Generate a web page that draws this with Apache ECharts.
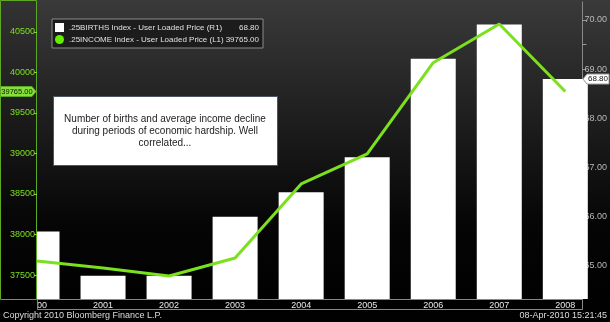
<!DOCTYPE html>
<html>
<head>
<meta charset="utf-8">
<script src="https://cdn.jsdelivr.net/npm/echarts@6/dist/echarts.min.js"></script>
<style>
html,body{margin:0;padding:0;background:#000;}
#chart{width:610px;height:322px;}
</style>
</head>
<body>
<div id="chart"></div>
<script>
const years = [2000, 2001, 2002, 2003, 2004, 2005, 2006, 2007, 2008];
const births = [65.70, 64.80, 64.80, 66.00, 66.50, 67.21, 69.21, 69.91, 68.80];
const income = [37673, 37586, 37488, 37710, 38624, 38994, 40121, 40599, 39765];
const leftTicks = [37500, 38000, 38500, 39000, 39500, 40000, 40500];
const rightLabels = [65, 66, 67, 68, 69, 70];
const rightTicks = [64.5, 65, 65.5, 66, 66.5, 67, 67.5, 68, 68.5, 69, 69.5, 70];
const birthsName = '.25BIRTHS Index - User Loaded Price (R1)';
const incomeName = '.25INCOME Index - User Loaded Price (L1)';
const lastBirths = '68.80';
const lastIncome = '39765.00';
const annotation = 'Number of births and average income decline\nduring periods of economic hardship. Well\ncorrelated...';

const FONT = '"Liberation Sans", Arial, sans-serif';
const GREEN = '#7be01e';
const chart = echarts.init(document.getElementById('chart'), null, {renderer: 'canvas'});

const option = {
  animation: false,
  backgroundColor: {
    type: 'linear', x: 0, y: 0, x2: 0, y2: 1,
    colorStops: [{offset: 0, color: '#3a3a3a'}, {offset: 0.7, color: '#050505'}, {offset: 1, color: '#000'}]
  },
  textStyle: {fontFamily: FONT},
  grid: {left: 37, right: 27, top: 2, bottom: 23, containLabel: false},
  legend: {
    left: 52, top: 19, orient: 'vertical', itemGap: 3,
    itemWidth: 9, itemHeight: 9,
    backgroundColor: '#1c1c1c', borderColor: '#8a8a8a', borderWidth: 1,
    padding: [4, 4, 4, 3],
    data: [
      {name: birthsName, icon: 'rect', itemStyle: {color: '#fff'}},
      {name: incomeName, icon: 'circle', itemStyle: {color: '#66ee00'}}
    ],
    formatter: function (name) {
      const v = name === birthsName ? lastBirths : lastIncome;
      return '{n|' + name + '}{v|' + v + '}';
    },
    textStyle: {
      color: '#e0e0e0', fontSize: 8, fontFamily: FONT,
      rich: {
        n: {width: 156, fontSize: 8, color: '#e0e0e0', fontFamily: FONT},
        v: {width: 34, align: 'right', fontSize: 8, color: '#e0e0e0', fontFamily: FONT}
      }
    }
  },
  xAxis: {
    type: 'value', min: 2000, max: 2008.26, interval: 1, z: 0,
    axisLine: {show: true, lineStyle: {color: '#999', width: 1}},
    axisTick: {show: false},
    splitLine: {show: false},
    axisLabel: {color: '#e8e8e8', fontSize: 9, margin: 2, fontFamily: FONT,
      showMinLabel: true, showMaxLabel: false,
      formatter: function (v) { return Number.isInteger(v) ? String(v) : ''; }}
  },
  yAxis: [
    {
      type: 'value', position: 'left', min: 37204, max: 40870, z: 10,
      splitLine: {show: false},
      axisLine: {show: false},
      axisTick: {show: true, length: 3, lineStyle: {color: GREEN}, customValues: leftTicks},
      axisLabel: {color: GREEN, fontSize: 9, margin: 2, fontFamily: FONT, customValues: leftTicks,
        formatter: function (v) { return String(v); }}
    },
    {
      type: 'value', position: 'right', min: 64.329, max: 70.366,
      splitLine: {show: false},
      axisLine: {show: true, lineStyle: {color: '#888'}},
      axisTick: {show: true, length: 4, lineStyle: {color: '#999'}, customValues: rightTicks},
      axisLabel: {color: '#b8b8b8', fontSize: 9, margin: 2, fontFamily: FONT, customValues: rightLabels,
        formatter: function (v) { return v.toFixed(2); }}
    }
  ],
  series: [
    {
      name: birthsName, type: 'bar', yAxisIndex: 1, barWidth: 45, clip: true,
      itemStyle: {color: '#ffffff'},
      data: years.map((y, i) => [y, births[i]])
    },
    {
      name: incomeName, type: 'line', yAxisIndex: 0, showSymbol: false, symbol: 'none',
      lineStyle: {color: GREEN, width: 3}, itemStyle: {color: GREEN},
      data: years.map((y, i) => [y, income[i]])
    }
  ],
  graphic: []
};
chart.setOption(option);

const yIncome = chart.convertToPixel({yAxisIndex: 0}, 39765);
const yBirths = chart.convertToPixel({yAxisIndex: 1}, 68.80);

chart.setOption({
  graphic: [
    {type: 'rect', z: 5, shape: {x: 0, y: 300, width: 37, height: 11},
      style: {fill: '#000'}},
    {type: 'rect', z: 5, shape: {x: 0.5, y: 0.5, width: 36, height: 299},
      style: {fill: {type: 'linear', x: 0, y: 0, x2: 0, y2: 1,
        colorStops: [{offset: 0, color: '#333'}, {offset: 0.7, color: '#080808'}, {offset: 1, color: '#000'}]},
        stroke: '#5ea823', lineWidth: 1}},
    {type: 'rect', z: 1, shape: {x: 37.5, y: 299.5, width: 545, height: 10},
      style: {fill: 'none', stroke: '#888', lineWidth: 1}},
    {type: 'rect', z: 20, shape: {x: 53.5, y: 96.5, width: 224, height: 69},
      style: {fill: '#ffffff', stroke: '#4a5566', lineWidth: 1}},
    {type: 'text', z: 21, x: 165, y: 113,
      style: {text: annotation, fill: '#222', font: '10px ' + FONT, align: 'center', verticalAlign: 'top', lineHeight: 12}},
    {type: 'polygon', z: 30, shape: {points: [[0.5, yIncome - 5], [32, yIncome - 5], [36, yIncome], [32, yIncome + 5], [0.5, yIncome + 5]]},
      style: {fill: '#86e03a', stroke: '#5ea823', lineWidth: 1}},
    {type: 'text', z: 31, x: 17, y: yIncome,
      style: {text: lastIncome, fill: '#111', font: '7.5px ' + FONT, align: 'center', verticalAlign: 'middle'}},
    {type: 'polygon', z: 30, shape: {points: [[583, yBirths], [587, yBirths - 5], [609, yBirths - 5], [609, yBirths + 5], [587, yBirths + 5]]},
      style: {fill: '#ffffff', stroke: '#999', lineWidth: 1}},
    {type: 'text', z: 31, x: 598, y: yBirths,
      style: {text: lastBirths, fill: '#111', font: '8px ' + FONT, align: 'center', verticalAlign: 'middle'}},
    {type: 'text', z: 30, x: 3, y: 316,
      style: {text: 'Copyright 2010 Bloomberg Finance L.P.', fill: '#ddd', font: '9px ' + FONT, align: 'left', verticalAlign: 'middle'}},
    {type: 'text', z: 30, x: 607, y: 316,
      style: {text: '08-Apr-2010 15:21:45', fill: '#ddd', font: '9px ' + FONT, align: 'right', verticalAlign: 'middle'}}
  ]
});
</script>
</body>
</html>
